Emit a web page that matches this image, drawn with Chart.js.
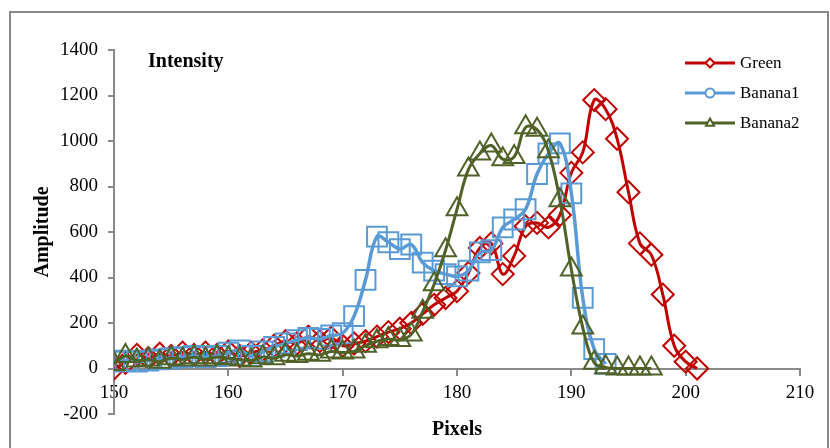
<!DOCTYPE html>
<html>
<head>
<meta charset="utf-8">
<script src="https://cdn.jsdelivr.net/npm/chart.js@4.4.1/dist/chart.umd.min.js"></script>
<style>
  html, body { margin: 0; padding: 0; background: #fff; }
  #wrap { position: relative; width: 830px; height: 448px; }
</style>
</head>
<body>
<div id="wrap"><canvas id="intensityChart" width="830" height="448"></canvas></div>
<script>
// pixel positions (x) shared by the three curves
const pixels = [150, 151, 152, 153, 154, 155, 156, 157, 158, 159,
                160, 161, 162, 163, 164, 165, 166, 167, 168, 169,
                170, 171, 172, 173, 174, 175, 176, 177, 178, 179,
                180, 181, 182, 183, 184, 185, 186, 187, 188, 189,
                190, 191, 192, 193, 194, 195, 196, 197, 198, 199,
                200, 201];

// amplitudes
const greenAmp = [0, 25, 60, 45, 65, 55, 70, 60, 70, 60,
                  75, 55, 70, 80, 100, 120, 110, 140, 120, 135,
                  100, 110, 120, 140, 160, 175, 200, 240, 280, 310,
                  340, 420, 530, 550, 415, 495, 625, 640, 620, 675,
                  860, 950, 1180, 1140, 1010, 775, 550, 500, 325, 100,
                  30, 0];
const banana1Amp = [30, 35, 30, 35, 40, 45, 50, 55, 50, 55,
                    70, 80, 55, 75, 95, 110, 125, 135, 130, 145,
                    155, 230, 390, 580, 555, 525, 545, 465, 430, 415,
                    405, 430, 510, 520, 620, 655, 700, 855, 945, 990,
                    770, 310, 85, 20];
const banana2Amp = [20, 55, 35, 40, 30, 45, 40, 50, 40, 50,
                    45, 40, 35, 50, 45, 60, 55, 65, 60, 75,
                    70, 75, 100, 120, 130, 125, 150, 250, 370, 520,
                    700, 875, 945, 980, 920, 930, 1060, 1050, 955, 740,
                    435, 180, 25, 5, 0, 0, 0, 0];

const seriesNames = ['Green', 'Banana1', 'Banana2'];
const xTicks = [150, 160, 170, 180, 190, 200, 210];
const yTicks = [-200, 0, 200, 400, 600, 800, 1000, 1200, 1400];

const serif = "'Liberation Serif', 'Times New Roman', serif";

function toPoints(values) {
  return values.map((v, i) => ({ x: pixels[i], y: v }));
}

// little legend in the upper right corner (inside the plot)
const legendStyles = ['rectRot', 'circle', 'triangle'];

function drawMarker(ctx, style, x, y, r) {
  ctx.beginPath();
  if (style === 'rectRot') {
    ctx.moveTo(x, y - r); ctx.lineTo(x + r, y); ctx.lineTo(x, y + r); ctx.lineTo(x - r, y);
    ctx.closePath();
  } else if (style === 'circle') {
    ctx.arc(x, y, r, 0, Math.PI * 2);
  } else {
    ctx.moveTo(x, y - r); ctx.lineTo(x + r * 0.9, y + r * 0.6); ctx.lineTo(x - r * 0.9, y + r * 0.6);
    ctx.closePath();
  }
  ctx.fillStyle = '#fff';
  ctx.fill();
  ctx.stroke();
}

const decorPlugin = {
  id: 'decor',
  beforeDraw(chart) {
    const ctx = chart.ctx;
    ctx.save();
    ctx.fillStyle = '#fff';
    ctx.fillRect(0, 0, chart.width, chart.height);
    ctx.strokeStyle = '#8a8a8a';
    ctx.lineWidth = 2;
    ctx.strokeRect(10, 12, 818, 440);
    ctx.restore();
  },
  afterDraw(chart) {
    const ctx = chart.ctx;
    const area = chart.chartArea;
    ctx.save();
    ctx.fillStyle = '#000';
    ctx.font = "bold 20px " + serif;
    ctx.textBaseline = 'alphabetic';
    ctx.fillText('Intensity', area.left + 34, area.top + 17);

    chart.data.datasets.forEach((ds, i) => {
      const y = area.top + 13 + i * 30;
      const x0 = area.right - 115;
      ctx.strokeStyle = ds.borderColor;
      ctx.lineWidth = 3;
      ctx.beginPath();
      ctx.moveTo(x0, y);
      ctx.lineTo(x0 + 50, y);
      ctx.stroke();
      ctx.lineWidth = 2;
      drawMarker(ctx, legendStyles[i], x0 + 25, y, 4.5);
      ctx.fillStyle = '#000';
      ctx.font = "17px " + serif;
      ctx.textBaseline = 'middle';
      ctx.fillText(ds.label, x0 + 55, y + 1);
    });
    ctx.restore();
  }
};

const ctx = document.getElementById('intensityChart');

const config = {
  type: 'line',
  data: {
    datasets: [
      {
        label: seriesNames[0],
        data: toPoints(greenAmp),
        borderColor: '#C00000',
        backgroundColor: 'rgba(0,0,0,0)',
        borderWidth: 3,
        tension: 0.4,
        pointStyle: 'rectRot',
        pointRadius: 11,
        pointBorderWidth: 2,
        order: 3
      },
      {
        label: seriesNames[1],
        data: toPoints(banana1Amp),
        borderColor: '#5B9BD5',
        backgroundColor: 'rgba(0,0,0,0)',
        borderWidth: 3.5,
        tension: 0.4,
        pointStyle: 'rect',
        pointRadius: 14,
        pointBorderWidth: 2,
        order: 2
      },
      {
        label: seriesNames[2],
        data: toPoints(banana2Amp),
        borderColor: '#4F6228',
        backgroundColor: 'rgba(0,0,0,0)',
        borderWidth: 3,
        tension: 0.4,
        pointStyle: 'triangle',
        pointRadius: 12,
        pointBorderWidth: 2,
        order: 1
      }
    ]
  },
  options: {
    responsive: false,
    animation: false,
    devicePixelRatio: 1,
    layout: { padding: { left: 10, right: 30, top: 50, bottom: 34 } },
    plugins: {
      legend: { display: false },
      tooltip: { enabled: false }
    },
    scales: {
      x: {
        type: 'linear',
        min: 150,
        max: 210,
        position: { y: 0 },
        afterBuildTicks: (scale) => { scale.ticks = xTicks.map(v => ({ value: v })); },
        ticks: { color: '#000', font: { family: serif, size: 19 }, padding: 7, maxRotation: 0, callback: (v) => String(v) },
        grid: { drawOnChartArea: false, tickLength: 6, color: '#8a8a8a', lineWidth: 2 },
        border: { color: '#8a8a8a', width: 2 },
        title: {
          display: true,
          text: 'Pixels',
          color: '#000',
          font: { family: serif, size: 20, weight: 'bold' },
          padding: { top: 7, bottom: 0 }
        }
      },
      y: {
        min: -200,
        max: 1400,
        afterBuildTicks: (scale) => { scale.ticks = yTicks.map(v => ({ value: v })); },
        afterFit: (scale) => { scale.width = 104; },
        ticks: { color: '#000', font: { family: serif, size: 19 }, padding: 10, callback: (v) => String(v) },
        grid: { drawOnChartArea: false, tickLength: 6, color: '#8a8a8a', lineWidth: 2 },
        border: { color: '#8a8a8a', width: 2 },
        title: {
          display: true,
          text: 'Amplitude',
          color: '#000',
          font: { family: serif, size: 20, weight: 'bold' },
          padding: { top: 21, bottom: 0 }
        }
      }
    }
  },
  plugins: [decorPlugin]
};

const chart = new Chart(ctx, config);
</script>
</body>
</html>
